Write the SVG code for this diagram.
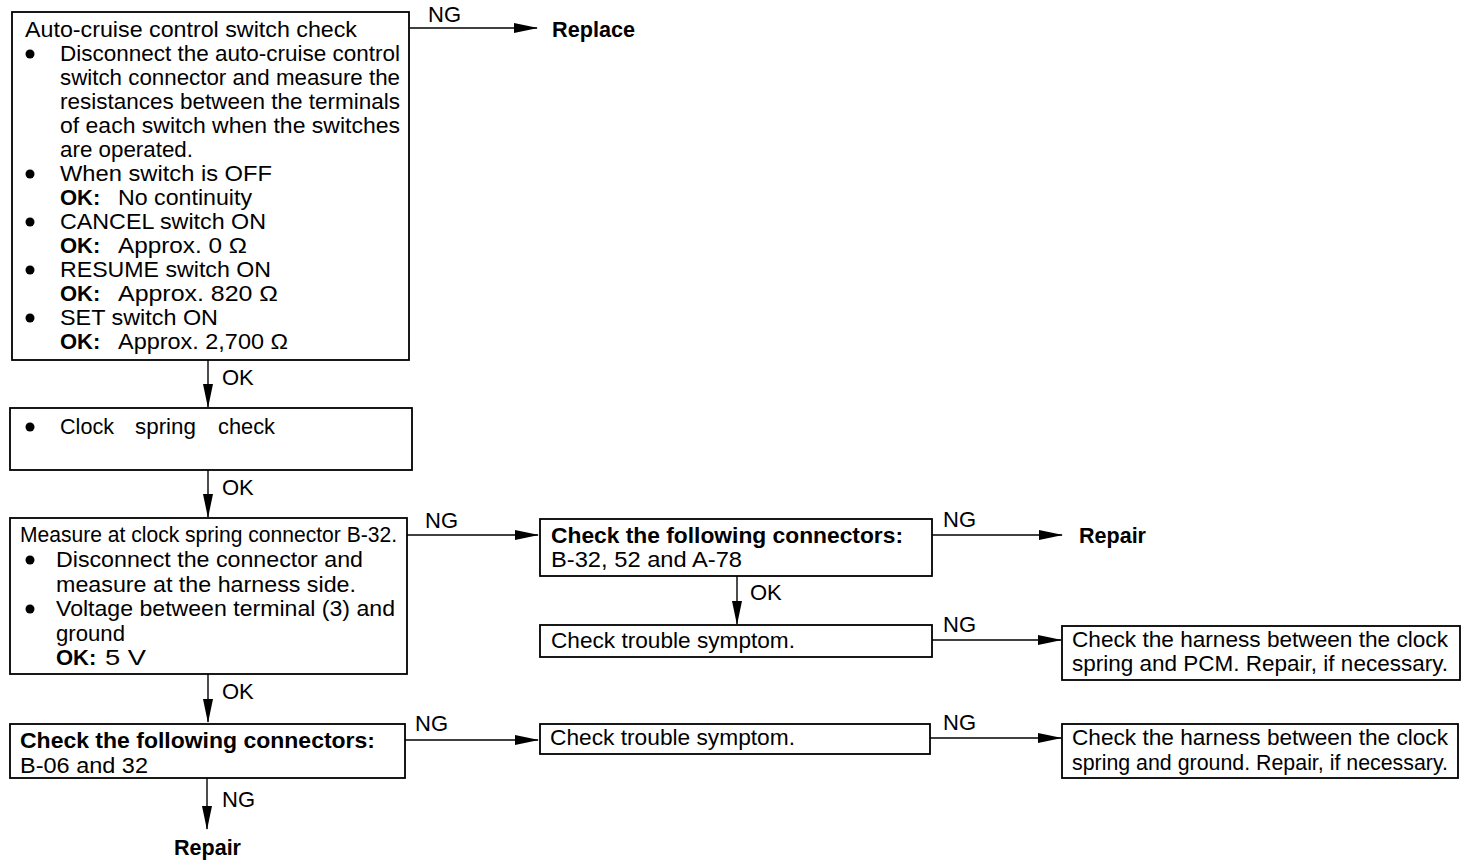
<svg xmlns="http://www.w3.org/2000/svg" width="1472" height="866" viewBox="0 0 1472 866">
<style>
  text { font-family: "Liberation Sans", Arial, sans-serif; font-size: 22px; fill: #000; }
  .b { font-weight: bold; }
  .box { fill: #fff; stroke: #000; stroke-width: 1.8; }
  .ln { stroke: #000; stroke-width: 1.4; fill: none; }
  .dot { fill: #000; }
</style>
<defs>
  <marker id="ah" markerUnits="userSpaceOnUse" markerWidth="28" markerHeight="14" refX="23" refY="6" orient="auto">
    <path d="M0,1 L24,6 L0,11 z" fill="#000"/>
  </marker>
</defs>
<rect width="1472" height="866" fill="#fff"/>

<g id="connectors">
  <line class="ln" x1="410" y1="28" x2="537" y2="28" marker-end="url(#ah)"/>
  <text x="428" y="22">NG</text>
  <line class="ln" x1="208" y1="360" x2="208" y2="407" marker-end="url(#ah)"/>
  <text x="222" y="385">OK</text>
  <line class="ln" x1="208" y1="470" x2="208" y2="517" marker-end="url(#ah)"/>
  <text x="222" y="495">OK</text>
  <line class="ln" x1="407" y1="535" x2="538" y2="535" marker-end="url(#ah)"/>
  <text x="425" y="528">NG</text>
  <line class="ln" x1="932" y1="535" x2="1062" y2="535" marker-end="url(#ah)"/>
  <text x="943" y="527">NG</text>
  <line class="ln" x1="737" y1="576" x2="737" y2="624" marker-end="url(#ah)"/>
  <text x="750" y="600">OK</text>
  <line class="ln" x1="932" y1="640" x2="1061" y2="640" marker-end="url(#ah)"/>
  <text x="943" y="632">NG</text>
  <line class="ln" x1="208" y1="674" x2="208" y2="722" marker-end="url(#ah)"/>
  <text x="222" y="699">OK</text>
  <line class="ln" x1="405" y1="740" x2="538" y2="740" marker-end="url(#ah)"/>
  <text x="415" y="731">NG</text>
  <line class="ln" x1="930" y1="738" x2="1061" y2="738" marker-end="url(#ah)"/>
  <text x="943" y="730">NG</text>
  <line class="ln" x1="207" y1="778" x2="207" y2="829" marker-end="url(#ah)"/>
  <text x="222" y="807">NG</text>
</g>

<g id="replace1"><text class="b" x="552" y="37" textLength="83" lengthAdjust="spacingAndGlyphs">Replace</text></g>
<g id="repair1"><text class="b" x="1079" y="543" textLength="67" lengthAdjust="spacingAndGlyphs">Repair</text></g>
<g id="repair2"><text class="b" x="174" y="855" textLength="67" lengthAdjust="spacingAndGlyphs">Repair</text></g>

<g id="n1">
  <rect class="box" x="12" y="12" width="397" height="348"/>
  <text x="25" y="37" textLength="332" lengthAdjust="spacingAndGlyphs">Auto-cruise control switch check</text>
  <circle class="dot" cx="30" cy="54" r="4.5"/>
  <text x="60" y="61" textLength="340" lengthAdjust="spacingAndGlyphs">Disconnect the auto-cruise control</text>
  <text x="60" y="85" textLength="340" lengthAdjust="spacingAndGlyphs">switch connector and measure the</text>
  <text x="60" y="109" textLength="340" lengthAdjust="spacingAndGlyphs">resistances between the terminals</text>
  <text x="60" y="133" textLength="340" lengthAdjust="spacingAndGlyphs">of each switch when the switches</text>
  <text x="60" y="157" textLength="133" lengthAdjust="spacingAndGlyphs">are operated.</text>
  <circle class="dot" cx="30" cy="174" r="4.5"/>
  <text x="60" y="181" textLength="212" lengthAdjust="spacingAndGlyphs">When switch is OFF</text>
  <text class="b" x="60" y="205">OK:</text>
  <text x="118" y="205" textLength="134" lengthAdjust="spacingAndGlyphs">No continuity</text>
  <circle class="dot" cx="30" cy="222" r="4.5"/>
  <text x="60" y="229" textLength="206" lengthAdjust="spacingAndGlyphs">CANCEL switch ON</text>
  <text class="b" x="60" y="253">OK:</text>
  <text x="118" y="253" textLength="129" lengthAdjust="spacingAndGlyphs">Approx. 0 Ω</text>
  <circle class="dot" cx="30" cy="270" r="4.5"/>
  <text x="60" y="277" textLength="211" lengthAdjust="spacingAndGlyphs">RESUME switch ON</text>
  <text class="b" x="60" y="301">OK:</text>
  <text x="118" y="301" textLength="160" lengthAdjust="spacingAndGlyphs">Approx. 820 Ω</text>
  <circle class="dot" cx="30" cy="318" r="4.5"/>
  <text x="60" y="325" textLength="158" lengthAdjust="spacingAndGlyphs">SET switch ON</text>
  <text class="b" x="60" y="349">OK:</text>
  <text x="118" y="349" textLength="170" lengthAdjust="spacingAndGlyphs">Approx. 2,700 Ω</text>
</g>

<g id="n2">
  <rect class="box" x="10" y="408" width="402" height="62"/>
  <circle class="dot" cx="30" cy="427" r="4.5"/>
  <text x="60" y="434" textLength="54" lengthAdjust="spacingAndGlyphs">Clock</text>
  <text x="135" y="434" textLength="61" lengthAdjust="spacingAndGlyphs">spring</text>
  <text x="218" y="434" textLength="57" lengthAdjust="spacingAndGlyphs">check</text>
</g>

<g id="n3">
  <rect class="box" x="10" y="518" width="397" height="156"/>
  <text x="20" y="542" textLength="377" lengthAdjust="spacingAndGlyphs">Measure at clock spring connector B-32.</text>
  <circle class="dot" cx="30" cy="560" r="4.5"/>
  <text x="56" y="567" textLength="307" lengthAdjust="spacingAndGlyphs">Disconnect the connector and</text>
  <text x="56" y="592" textLength="300" lengthAdjust="spacingAndGlyphs">measure at the harness side.</text>
  <circle class="dot" cx="30" cy="609" r="4.5"/>
  <text x="56" y="616" textLength="339" lengthAdjust="spacingAndGlyphs">Voltage between terminal (3) and</text>
  <text x="56" y="641" textLength="69" lengthAdjust="spacingAndGlyphs">ground</text>
  <text class="b" x="56" y="665">OK:</text>
  <text x="105" y="665" textLength="41" lengthAdjust="spacingAndGlyphs">5 V</text>
</g>

<g id="n4">
  <rect class="box" x="540" y="519" width="392" height="57"/>
  <text class="b" x="551" y="543" textLength="352" lengthAdjust="spacingAndGlyphs">Check the following connectors:</text>
  <text x="551" y="567" textLength="191" lengthAdjust="spacingAndGlyphs">B-32, 52 and A-78</text>
</g>

<g id="n5">
  <rect class="box" x="540" y="625" width="392" height="32"/>
  <text x="551" y="648" textLength="244" lengthAdjust="spacingAndGlyphs">Check trouble symptom.</text>
</g>

<g id="n6">
  <rect class="box" x="1062" y="626" width="398" height="54"/>
  <text x="1072" y="647" textLength="376" lengthAdjust="spacingAndGlyphs">Check the harness between the clock</text>
  <text x="1072" y="671" textLength="376" lengthAdjust="spacingAndGlyphs">spring and PCM. Repair, if necessary.</text>
</g>

<g id="n7">
  <rect class="box" x="10" y="724" width="395" height="54"/>
  <text class="b" x="20" y="748" textLength="355" lengthAdjust="spacingAndGlyphs">Check the following connectors:</text>
  <text x="20" y="773" textLength="128" lengthAdjust="spacingAndGlyphs">B-06 and 32</text>
</g>

<g id="n8">
  <rect class="box" x="540" y="724" width="390" height="30"/>
  <text x="550" y="745" textLength="245" lengthAdjust="spacingAndGlyphs">Check trouble symptom.</text>
</g>

<g id="n9">
  <rect class="box" x="1062" y="724" width="396" height="54"/>
  <text x="1072" y="745" textLength="376" lengthAdjust="spacingAndGlyphs">Check the harness between the clock</text>
  <text x="1072" y="770" textLength="376" lengthAdjust="spacingAndGlyphs">spring and ground. Repair, if necessary.</text>
</g>
</svg>
